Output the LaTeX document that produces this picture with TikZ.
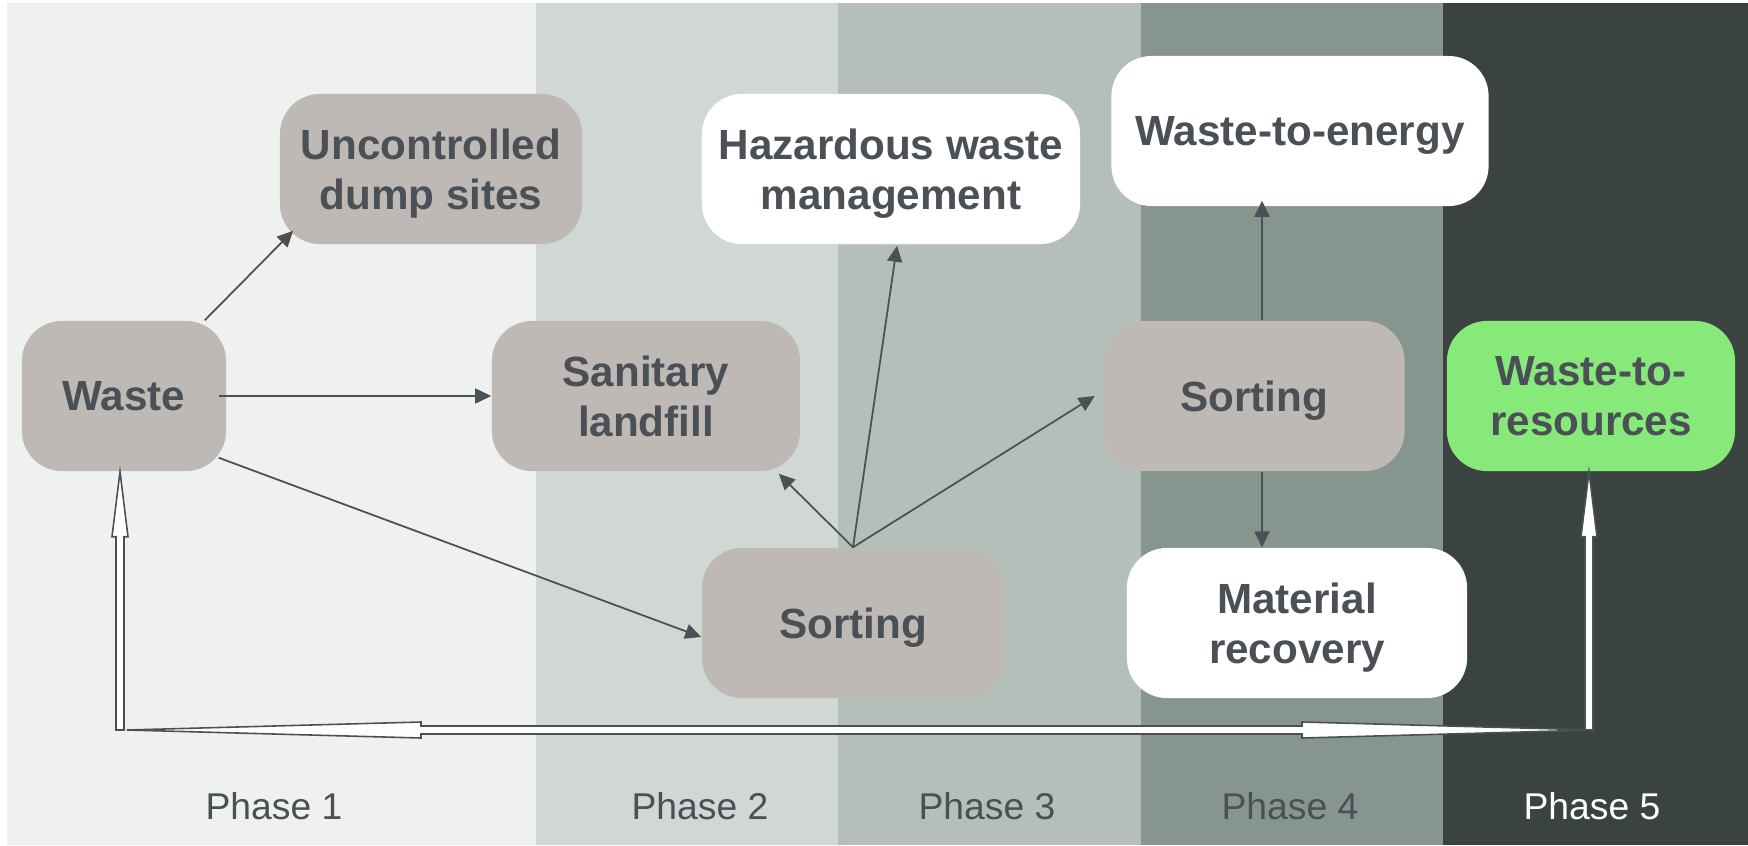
\documentclass[tikz,border=0pt]{standalone}
\usepackage{fontspec}
\setmainfont{Liberation Sans}
\usepackage{tikz}
\usetikzlibrary{arrows.meta,calc}
\definecolor{ink}{RGB}{74,80,85}
\definecolor{stone}{RGB}{190,185,181}
\definecolor{leaf}{RGB}{136,233,123}
\definecolor{phaseA}{RGB}{239,241,240}
\definecolor{phaseB}{RGB}{208,215,213}
\definecolor{phaseC}{RGB}{181,191,186}
\definecolor{phaseD}{RGB}{134,149,142}
\definecolor{phaseE}{RGB}{58,67,63}

\begin{document}
\begin{tikzpicture}[x=0.01cm,y=-0.01cm,font=\fontsize{12}{14.2}\selectfont]
\useasboundingbox (0,0) rectangle (1748,845);
\tikzset{stage/.style={rounded corners=0.4cm,minimum height=1.5cm,inner sep=0pt,text depth=0pt,align=center,text=ink,font=\fontsize{12}{14.2}\selectfont\bfseries}}
\tikzset{conn/.style={-{Triangle[length=1.6mm,width=1.5mm]},line width=0.5pt,ink}}
\tikzset{hollow/.style={draw=ink,fill=white,line width=0.45pt,line join=miter}}
% phase bands
\foreach \i/\xa/\xb/\xl/\col/\tcol in {1/7/536/274/phaseA/ink, 2/536/838/700/phaseB/ink, 3/838/1141/987/phaseC/ink, 4/1141/1443/1290/phaseD/ink, 5/1443/1748/1592/phaseE/white} {
  \fill[\col] (\xa,3) rectangle (\xb,845);
  \node[text=\tcol,font=\fontsize{10.6}{12}\selectfont] (ph\i) at (\xl,806) {Phase \i};
}
% stages
\node[stage,fill=stone,minimum width=2.04cm] (waste) at (124,396) {Waste};
\node[stage,fill=stone,minimum width=3.02cm] (dump) at (431,169) {Uncontrolled\\dump sites};
\node[stage,fill=stone,minimum width=3.08cm] (landfill) at (646,396) {Sanitary\\landfill};
\node[stage,fill=stone,minimum width=3.02cm] (sortA) at (853,623) {Sorting};
\node[stage,fill=white,minimum width=3.78cm] (hazard) at (891,169) {Hazardous waste\\management};
\node[stage,fill=white,minimum width=3.77cm] (energy) at (1300,131) {Waste-to-energy};
\node[stage,fill=stone,minimum width=3.01cm] (sortB) at (1254,396) {Sorting};
\node[stage,fill=white,minimum width=3.40cm] (recovery) at (1297,623) {Material\\recovery};
\node[stage,fill=leaf,minimum width=2.88cm] (resources) at (1591,396) {Waste-to-\\resources};
% waste outlets
\draw[conn] ($(waste.north east)+(-22,0)$) -- ($(dump.south west)+(14,-14)$);
\draw[conn] ($(waste.east)+(-8,0)$) -- (landfill.west);
\draw[conn] ($(waste.south east)+(-8,-14)$) -- ($(sortA.west)+(0,14)$);
% sorting splits
\draw[conn] (sortA.north) -- ($(landfill.south east)+(-22,2)$);
\draw[conn] (sortA.north) -- ($(hazard.south)+(6,1)$);
\draw[conn] (sortA.north) -- ($(sortB.west)+(-8,0)$);
\draw[conn] ($(sortB.north)+(8,0)$) -- ($(energy.south)+(-38,-6)$);
\draw[conn] ($(sortB.south)+(8,0)$) -- ($(recovery.north)+(-35,0)$);
% loop along the bottom
\coordinate (loopL) at (120,730);
\coordinate (loopR) at (1589,730);
\draw[hollow] ($(loopL)+(7,0)$) -- ++(294,-8) -- ++(0,4) -- ($(loopR)+(-287,-4)$) -- ++(0,-4) -- ($(loopR)+(6,0)$) -- ++(-293,8) -- ++(0,-4) -- ($(loopL)+(301,4)$) -- ++(0,4) -- cycle;
\draw[hollow] (loopL |- waste.south) -- ++(8,65) -- ++(-4,0) -- ($(loopL)+(4,0)$) -- ++(-8,0) -- ($(loopL |- waste.south)+(-4,65)$) -- ++(-4,0) -- cycle;
\draw[hollow] (loopR |- resources.south) -- ++(8,65) -- ++(-4,0) -- ($(loopR)+(4,0)$) -- ++(-8,0) -- ($(loopR |- resources.south)+(-4,65)$) -- ++(-4,0) -- cycle;
\end{tikzpicture}
\end{document}
